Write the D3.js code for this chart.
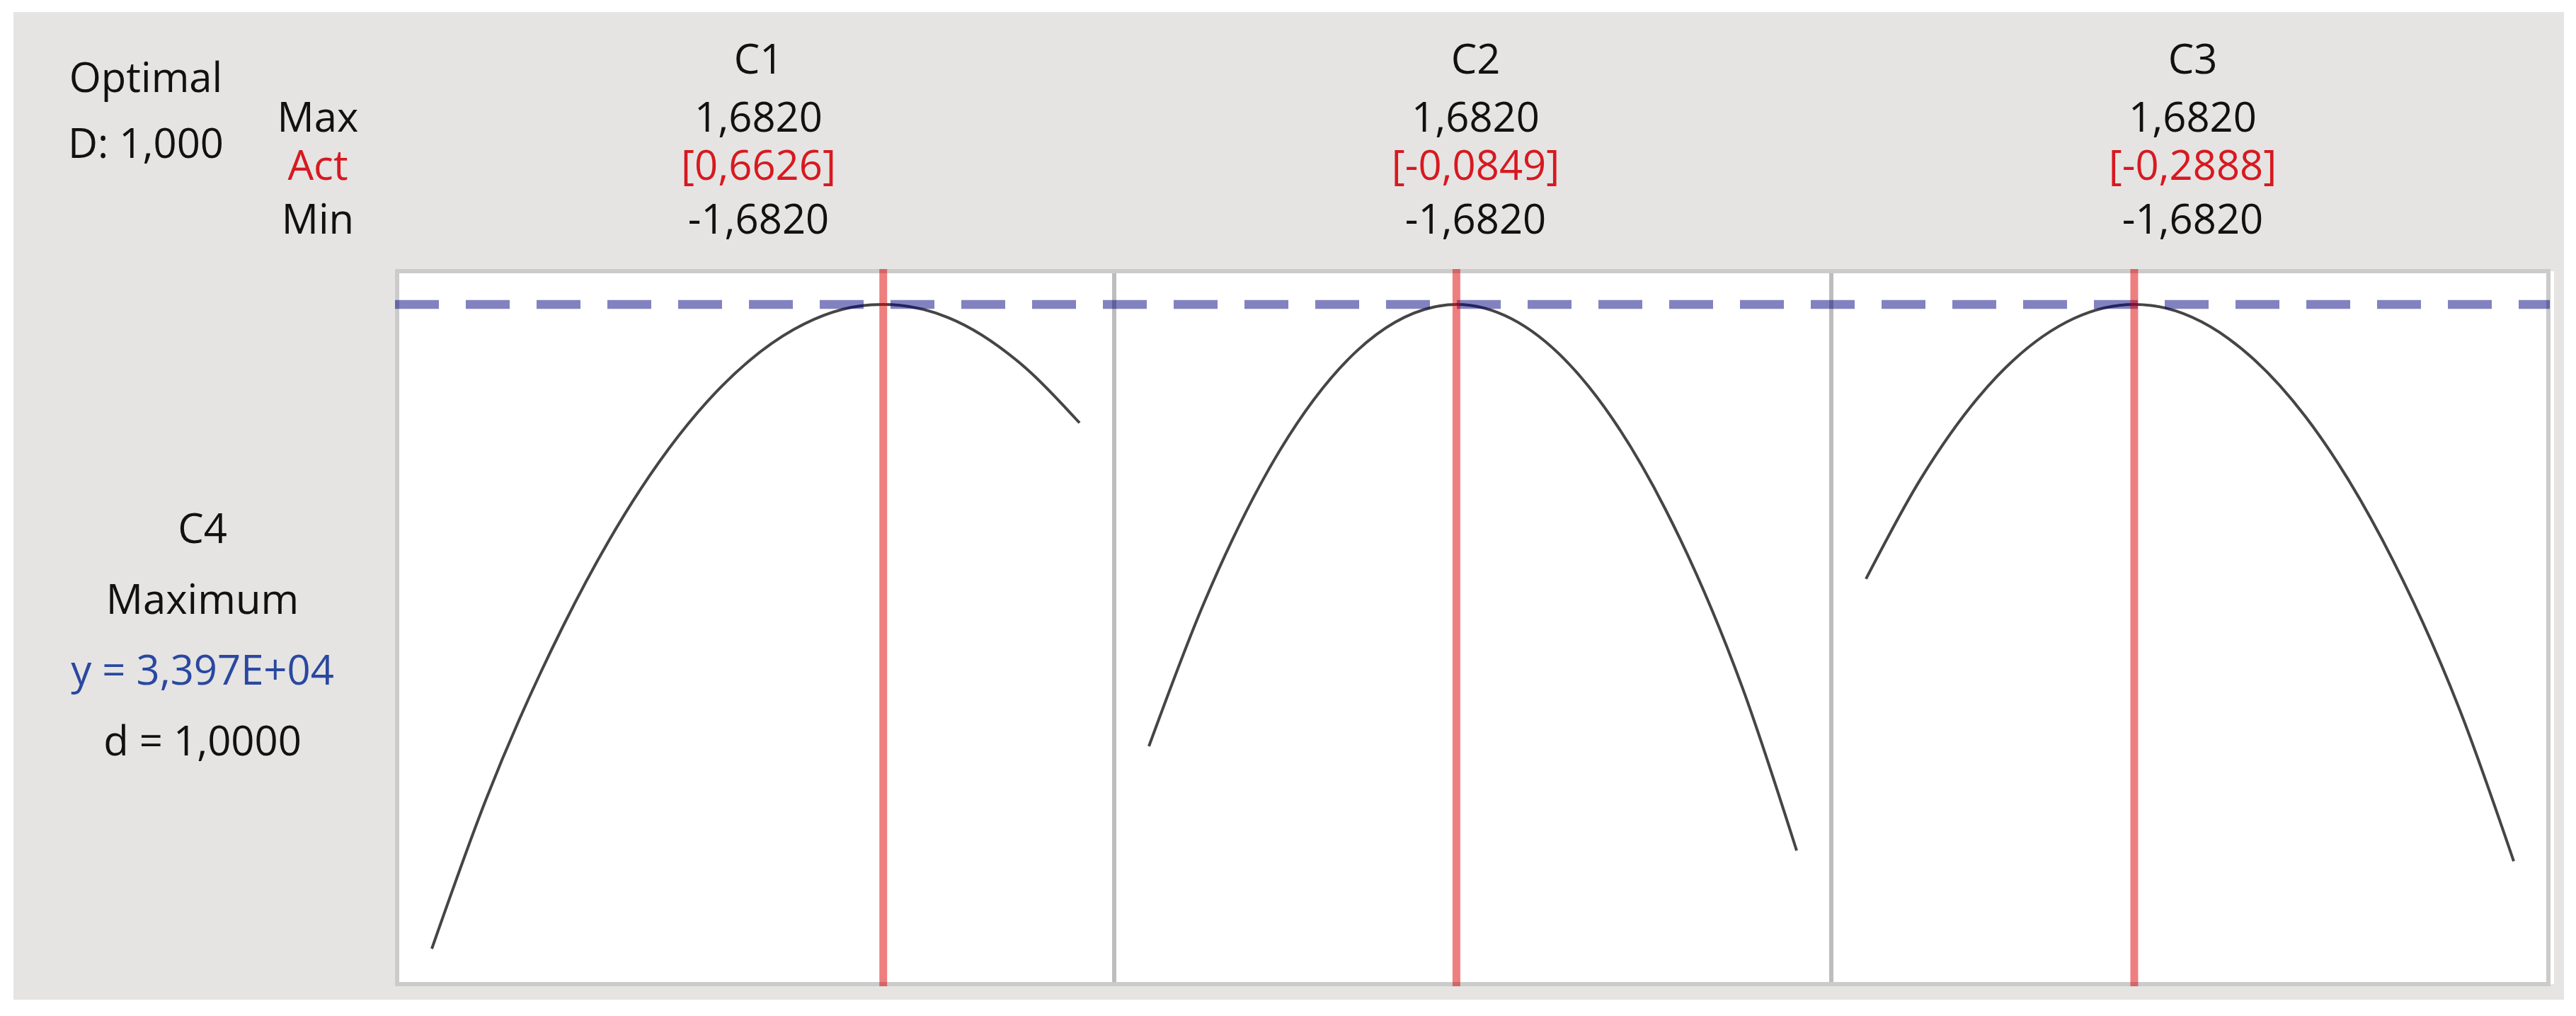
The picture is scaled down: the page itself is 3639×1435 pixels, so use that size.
<!DOCTYPE html>
<html>
<head>
<meta charset="utf-8">
<script src="https://cdn.jsdelivr.net/npm/d3@7"></script>
<style>
body { margin: 0; background: #fff; }
svg text { font-family: "Open Sans", "Noto Sans", sans-serif; font-size: 58px; }
</style>
</head>
<body>
<div id="my-chart"></div>
<script>
// factor settings
var factors = ["C1", "C2", "C3"];
var factorHigh = [1.682, 1.682, 1.682];
var factorLow = [-1.682, -1.682, -1.682];
var factorAct = [0.6626, -0.0849, -0.2888];

// response
var responseName = "C4";
var responseGoal = "Maximum";
var yOptimum = 33970;
var dIndividual = 1.0;
var dComposite = 1.0;

// response profile (x in coded units, y in response units)
var gridX = [-1.682, -1.4, -1.0, -0.6, -0.2, 0.2, 0.6, 1.0, 1.4, 1.682];
var profileC1 = [15800, 20020, 24900, 28740, 31530, 33270, 33960, 33600, 32190, 30630];
var profileC2 = [21510, 25500, 29870, 32670, 33900, 33570, 31670, 28200, 23170, 18570];
var profileC3 = [26230, 29030, 31950, 33580, 33940, 33010, 30810, 27330, 22560, 18270];
var profiles = [profileC1, profileC2, profileC3];

var width = 3639;
var height = 1435;
var plotL = 561, plotR = 3600, plotT = 383, plotB = 1390;
var padX = 49;
var panelW = (plotR - plotL) / factors.length;

var locale = d3.formatLocale({decimal: ",", thousands: ".", grouping: [3], currency: ["", ""], minus: "-"});
var f4 = locale.format(".4f");
var f3 = locale.format(".3f");
function sci(v) {
    var e = Math.floor(Math.log10(v));
    return f3(v / Math.pow(10, e)) + "E+" + String(e).padStart(2, "0");
}

var svg = d3.select("div#my-chart").append("svg")
    .attr("width", width)
    .attr("height", height);

svg.append("rect")
    .attr("x", 19).attr("y", 17)
    .attr("width", 3603).attr("height", 1395)
    .attr("fill", "#e5e4e3");

var allY = d3.merge(profiles).concat([yOptimum]);
var yScale = d3.scaleLinear()
    .domain([d3.min(allY), yOptimum])
    .range([plotB - 50, plotT + 47]);

// plot area
svg.append("rect")
    .attr("x", plotL).attr("y", plotT)
    .attr("width", plotR - plotL + 8).attr("height", plotB - plotT)
    .attr("fill", "#fff");

var line = d3.line()
    .x(function(d) { return d.sx; })
    .y(function(d) { return yScale(d[1]); })
    .curve(d3.curveMonotoneX);

var xScales = factors.map(function(f, i) {
    var x0 = plotL + i * panelW;
    return d3.scaleLinear()
        .domain([factorLow[i], factorHigh[i]])
        .range([x0 + padX, x0 + panelW - padX]);
});

// panel dividers + frame
for (var i = 1; i < factors.length; i++) {
    svg.append("line")
        .attr("x1", plotL + i * panelW).attr("x2", plotL + i * panelW)
        .attr("y1", plotT).attr("y2", plotB)
        .attr("stroke", "#bdbdbd")
        .attr("stroke-width", 6);
}
svg.append("rect")
    .attr("x", plotL).attr("y", plotT)
    .attr("width", plotR - plotL).attr("height", plotB - plotT)
    .attr("fill", "none")
    .attr("stroke", "#cbcbcb")
    .attr("stroke-width", 6);

// curves
factors.forEach(function(f, i) {
    var pts = gridX.map(function(x, j) { return [x, profiles[i][j]]; });
    pts.push([factorAct[i], yOptimum]);
    pts.sort(function(a, b) { return a[0] - b[0]; });
    pts.forEach(function(p) { p.sx = xScales[i](p[0]); });
    svg.append("path")
        .datum(pts)
        .attr("d", line)
        .attr("fill", "none")
        .attr("stroke", "#454545")
        .attr("stroke-width", 4);
});

// optimum line
svg.append("line")
    .attr("x1", plotL - 3).attr("x2", plotR + 2)
    .attr("y1", yScale(yOptimum)).attr("y2", yScale(yOptimum))
    .attr("stroke", "#000080")
    .attr("stroke-opacity", 0.49)
    .attr("stroke-width", 12.5)
    .attr("stroke-dasharray", "62,38");

// current settings
svg.selectAll("line.act")
    .data(factors)
    .enter()
    .append("line")
    .attr("class", "act")
    .attr("x1", function(d, i) { return xScales[i](factorAct[i]); })
    .attr("x2", function(d, i) { return xScales[i](factorAct[i]); })
    .attr("y1", plotT - 3)
    .attr("y2", plotB + 3)
    .attr("stroke", "#dd0000")
    .attr("stroke-opacity", 0.5)
    .attr("stroke-width", 11);

// header text
function label(x, y, txt, color) {
    svg.append("text")
        .attr("x", x).attr("y", y)
        .attr("text-anchor", "middle")
        .attr("fill", color || "#111")
        .text(txt);
}
label(206, 130, "Optimal");
label(206, 223, "D: " + f3(dComposite));
label(449, 186, "Max");
label(449, 254, "Act", "#d71920");
label(449, 330, "Min");

factors.forEach(function(f, i) {
    var cx = plotL + i * panelW + panelW / 2 + 4;
    label(cx, 104, f);
    label(cx, 186, f4(factorHigh[i]));
    label(cx, 254, "[" + f4(factorAct[i]) + "]", "#d71920");
    label(cx, 330, f4(factorLow[i]));
});

label(286, 767, responseName);
label(286, 867, responseGoal);
label(286, 967, "y = " + sci(yOptimum), "#2a48a0");
label(286, 1067, "d = " + f4(dIndividual));
</script>
</body>
</html>
